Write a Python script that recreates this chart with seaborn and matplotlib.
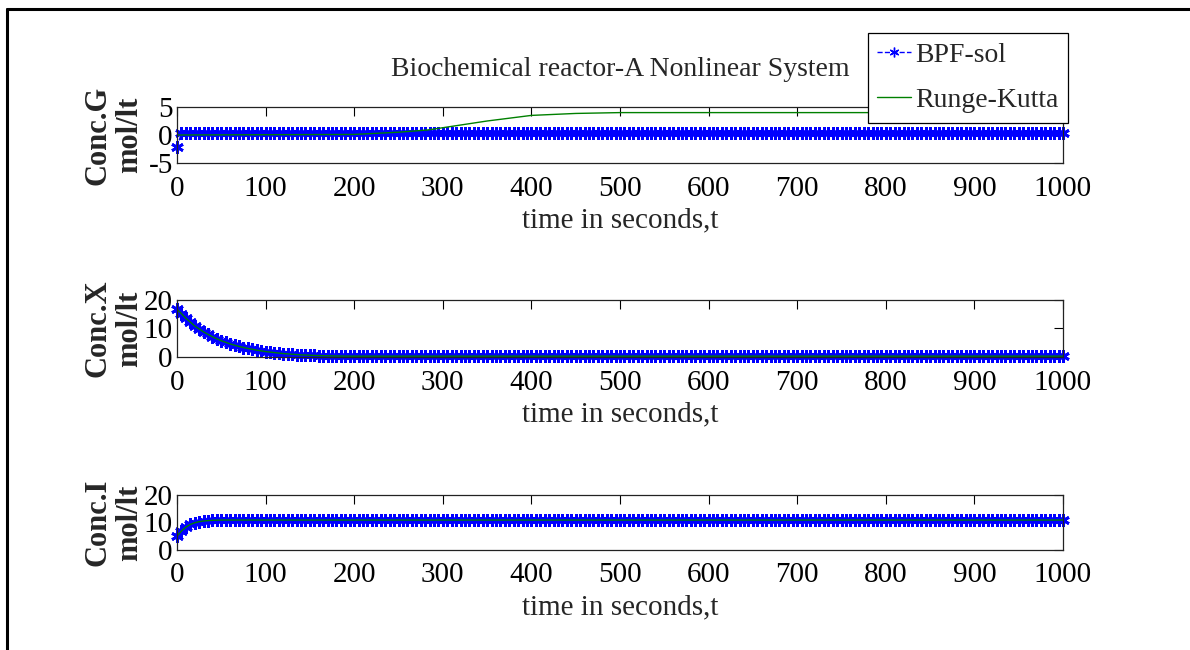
import numpy as np
import pandas as pd
import matplotlib
matplotlib.use('Agg')
import matplotlib.pyplot as plt
import seaborn as sns
from matplotlib.lines import Line2D

sns.set_style('white')
plt.rcParams['font.family'] = ['Liberation Serif', 'DejaVu Serif']
plt.rcParams['axes.unicode_minus'] = False

# block pulse solution is sampled on 5 s blocks
t_bpf = np.arange(0, 1001, 5)

# BPF-sol values (head = transient, tail = settled level)
bpf_g_head = [-2.2]
bpf_g_level = 0.3
bpf_x_head = [16.8, 15.1, 13.6, 12.2, 10.9, 9.8, 8.8, 7.9, 7.1, 6.4, 5.7, 5.1, 4.6,
              4.1, 3.7, 3.3, 3.0, 2.7, 2.4, 2.1, 1.9, 1.7, 1.5, 1.35, 1.2, 1.05, 0.95,
              0.85, 0.75, 0.68, 0.6, 0.55, 0.5, 0.47, 0.45, 0.42, 0.4]
bpf_x_level = 0.4
bpf_i_head = [5.0, 6.9, 8.3, 9.3, 9.9, 10.3, 10.55, 10.7, 10.8, 10.85, 10.9]
bpf_i_level = 10.9

bpf_g = bpf_g_head + [bpf_g_level] * (len(t_bpf) - len(bpf_g_head))
bpf_x = bpf_x_head + [bpf_x_level] * (len(t_bpf) - len(bpf_x_head))
bpf_i = bpf_i_head + [bpf_i_level] * (len(t_bpf) - len(bpf_i_head))

# Runge-Kutta curves (read at knots)
rk_g_t = [0, 200, 250, 283, 300, 350, 400, 450, 500, 1000]
rk_g = [0.0, 0.1, 0.5, 0.9, 1.3, 2.5, 3.5, 3.85, 4.0, 4.0]
rk_x_t = [0, 10, 20, 30, 40, 50, 60, 70, 80, 90, 100, 120, 140, 160, 180, 200, 1000]
rk_x = [16.8, 13.6, 10.9, 8.8, 7.1, 5.7, 4.6, 3.7, 3.0, 2.4, 1.9, 1.2, 0.75, 0.5, 0.35, 0.3, 0.3]
rk_i_t = [0, 5, 10, 15, 20, 25, 30, 40, 50, 1000]
rk_i = [5.0, 6.9, 8.3, 9.3, 9.9, 10.3, 10.55, 10.8, 10.9, 10.9]

panels = [
    ('Conc.G', bpf_g, rk_g_t, rk_g, (-5, 5), [-5, 0, 5]),
    ('Conc.X', bpf_x, rk_x_t, rk_x, (0, 20), [0, 10, 20]),
    ('Conc.I', bpf_i, rk_i_t, rk_i, (0, 20), [0, 10, 20]),
]
xticks = [0, 100, 200, 300, 400, 500, 600, 700, 800, 900, 1000]

W, H = 1190, 650
fig = plt.figure(figsize=(11.9, 6.5), dpi=100)

# axes boxes in pixels: (left, top, right, bottom)
boxes = [(177, 107, 1063, 163), (177, 300, 1063, 357), (177, 495, 1063, 550)]

blue = '#0000ff'
green = '#008000'
asterisk = (6, 2, 0)

for (name, bpf, rkt, rkv, ylim, yt), (l, t, r, b) in zip(panels, boxes):
    ax = fig.add_axes([l / W, 1 - b / H, (r - l) / W, (b - t) / H])
    df_b = pd.DataFrame({'t': t_bpf, 'v': bpf})
    df_r = pd.DataFrame({'t': rkt, 'v': rkv})
    sns.lineplot(data=df_b, x='t', y='v', ax=ax, color=blue, ls='--', lw=1,
                 marker=asterisk, markersize=9, markeredgewidth=2.0, markeredgecolor=blue,
                 estimator=None, legend=False, clip_on=False)
    sns.lineplot(data=df_r, x='t', y='v', ax=ax, color=green, lw=1,
                 estimator=None, legend=False)
    ax.set_xlim(0, 1000)
    ax.set_ylim(*ylim)
    ax.set_xticks(xticks)
    ax.set_yticks(yt)
    ax.tick_params(direction='in', length=6.5, width=0.8, top=True, right=True,
                   labelsize=21, colors='black')
    ax.tick_params(axis='x', pad=9)
    ax.tick_params(axis='y', pad=3)
    for s in ax.spines.values():
        s.set_color('#222222')
        s.set_linewidth(0.9)
    ax.set_xlabel('time in seconds,t', fontsize=21, labelpad=4)
    ax.set_ylabel('')
    yc = 1 - (t + b) / 2 / H
    fig.text(98 / W, yc, name, rotation=90, ha='center', va='center',
             fontsize=22, fontweight='bold')
    fig.text(130 / W, yc, 'mol/lt', rotation=90, ha='center', va='center',
             fontsize=22, fontweight='bold')

fig.text(620 / W, 1 - 70 / H, 'Biochemical reactor-A Nonlinear System',
         ha='center', va='center', fontsize=20)

handles = [Line2D([], [], color=blue, ls='--', lw=1, marker=asterisk, markersize=7),
           Line2D([], [], color=green, lw=1)]
leg = fig.legend(handles, ['BPF-sol', 'Runge-Kutta'], loc='upper right',
                 bbox_to_anchor=(1068 / W, 1 - 33 / H), fontsize=20, frameon=True,
                 fancybox=False, framealpha=1, edgecolor='black', handlelength=1.2,
                 borderpad=0.35, labelspacing=0.7, handletextpad=0.15, borderaxespad=0)
leg.get_frame().set_linewidth(0.9)

# outer frame lines (left and top)
fig.add_artist(Line2D([7 / W, 7 / W], [0, 1 - 9 / H], color='black', lw=2.2))
fig.add_artist(Line2D([7 / W, 1], [1 - 9 / H, 1 - 9 / H], color='black', lw=2.2))

fig.savefig('out.png', dpi=100)
